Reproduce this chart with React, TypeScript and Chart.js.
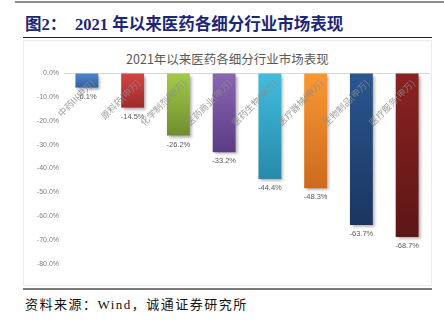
import React, { useEffect, useRef } from "react";
import { Chart, registerables } from "chart.js";

Chart.register(...registerables);

const categories = [
  "中药II(申万)",
  "原料药(申万)",
  "化学制剂(申万)",
  "医药商业(申万)",
  "医药生物(申万)",
  "医疗器械(申万)",
  "生物制品(申万)",
  "医疗服务(申万)",
];
const values = [-6.1, -14.5, -26.2, -33.2, -44.4, -48.3, -63.7, -68.7];
const topColors = ["#4f86cc", "#d94242", "#a3cb4b", "#8a65b3", "#42bde0", "#fb9832", "#2b5690", "#8b2222"];
const bottomColors = ["#2f62a2", "#9c2b2b", "#6f8d2d", "#5a3d82", "#2689a9", "#cc6a1e", "#1a365f", "#5d1616"];
const yMin = -80;
const yMax = 0;
const yStep = 10;

const chartTitle = "2021年以来医药各细分行业市场表现";

const labelPlugin = {
  id: "barLabels",
  beforeDatasetsDraw(chart: any) {
    const ctx = chart.ctx;
    ctx.save();
    ctx.shadowColor = "rgba(0,0,0,0.35)";
    ctx.shadowBlur = 3;
    ctx.shadowOffsetX = 2;
    ctx.shadowOffsetY = 2;
  },
  afterDatasetsDraw(chart: any) {
    const ctx = chart.ctx;
    ctx.restore();
    const meta = chart.getDatasetMeta(0);
    ctx.save();
    meta.data.forEach((bar: any, i: number) => {
      ctx.fillStyle = "#595959";
      ctx.font = "7.5px 'Liberation Sans', Arial, sans-serif";
      ctx.textAlign = "center";
      ctx.textBaseline = "middle";
      ctx.fillText(values[i].toFixed(1) + "%", bar.x, bar.y + 9);
      ctx.save();
      ctx.translate(bar.x + 6, bar.base + 8);
      ctx.rotate(-Math.PI / 4);
      ctx.fillStyle = "rgba(140,140,140,0.85)";
      ctx.font = "9px 'Noto Sans CJK SC', 'Liberation Serif', serif";
      ctx.textAlign = "right";
      ctx.textBaseline = "middle";
      ctx.fillText(categories[i], 0, 0);
      ctx.restore();
    });
    ctx.restore();
  },
};

export default function App() {
  const ref = useRef<HTMLCanvasElement>(null);
  useEffect(() => {
    if (!ref.current) return;
    const chart = new Chart(ref.current, {
      type: "bar",
      data: {
        labels: categories,
        datasets: [
          {
            data: values,
            backgroundColor: (c: any) => {
              const ch = c.chart;
              const i = c.dataIndex;
              const ys = ch.scales && ch.scales.y;
              if (!ch.chartArea || !ys || i === undefined) return topColors[i ?? 0];
              const y0 = ys.getPixelForValue(0);
              const y1 = ys.getPixelForValue(values[i]);
              const g = ch.ctx.createLinearGradient(0, y0, 0, y1);
              g.addColorStop(0, topColors[i]);
              g.addColorStop(1, bottomColors[i]);
              return g;
            },
            borderWidth: 0,
            barPercentage: 0.5,
            categoryPercentage: 1,
          },
        ],
      },
      options: {
        animation: false,
        responsive: false,
        maintainAspectRatio: false,
        layout: { padding: { top: 33, left: 0, right: 2, bottom: 22 } },
        plugins: { legend: { display: false }, tooltip: { enabled: false }, title: { display: false } },
        scales: {
          x: { display: false },
          y: {
            min: yMin,
            max: yMax,
            afterFit: (s: any) => {
              s.width = 41;
            },
            ticks: {
              stepSize: yStep,
              padding: 5,
              color: "#7f7f7f",
              font: { size: 7, family: "'Liberation Sans', Arial, sans-serif" },
              callback: (v: any) => Number(v).toFixed(1) + "%",
            },
            border: { display: false },
            grid: {
              drawTicks: false,
              color: (c: any) => (c.tick && c.tick.value === 0 ? "#d9d9d9" : "rgba(0,0,0,0)"),
              lineWidth: 1,
            },
          },
        },
      },
      plugins: [labelPlugin],
    });
    return () => chart.destroy();
  }, []);

  return (
    <div style={{ position: "fixed", left: 0, top: 0, width: 444, height: 326, background: "#fff", overflow: "hidden" }}>
      <div style={{ position: "absolute", left: 15, top: 1, width: 429, height: 2, background: "#8c8c8c" }} />
      <div
        style={{
          position: "absolute",
          left: 25,
          top: 14,
          fontSize: 16.5,
          fontWeight: "bold",
          color: "#1c2677",
          fontFamily: "'Liberation Serif', 'Noto Sans CJK SC', serif",
          whiteSpace: "nowrap",
          lineHeight: "22px",
        }}
      >
        图2：
      </div>
      <div
        style={{
          position: "absolute",
          left: 75,
          top: 14,
          fontSize: 16.5,
          fontWeight: "bold",
          color: "#1c2677",
          fontFamily: "'Liberation Serif', 'Noto Sans CJK SC', serif",
          whiteSpace: "nowrap",
          lineHeight: "22px",
        }}
      >
        2021 年以来医药各细分行业市场表现
      </div>
      <div style={{ position: "absolute", left: 23, top: 37, width: 409, height: 1, background: "#222" }} />
      <div
        style={{
          position: "absolute",
          left: 23,
          top: 40,
          width: 407,
          height: 244,
          border: "1px solid #ececec",
        }}
      />
      <div
        style={{
          position: "absolute",
          left: 23,
          top: 50,
          width: 409,
          textAlign: "center",
          fontSize: 12.5,
          color: "#595959",
          fontFamily: "'Noto Sans CJK SC', sans-serif",
          lineHeight: "18px",
        }}
      >
        {chartTitle}
      </div>
      <canvas ref={ref} width={409} height={246} style={{ position: "absolute", left: 23, top: 40, width: 409, height: 246 }} />
      <div style={{ position: "absolute", left: 23, top: 288, width: 409, height: 2, background: "#7a7a7a" }} />
      <div
        style={{
          position: "absolute",
          left: 25,
          top: 296,
          fontSize: 13,
          color: "#111",
          letterSpacing: 1.5,
          fontFamily: "'Liberation Serif', 'Noto Sans CJK SC', serif",
          whiteSpace: "nowrap",
          lineHeight: "18px",
        }}
      >
        资料来源：Wind，诚通证券研究所
      </div>
    </div>
  );
}
